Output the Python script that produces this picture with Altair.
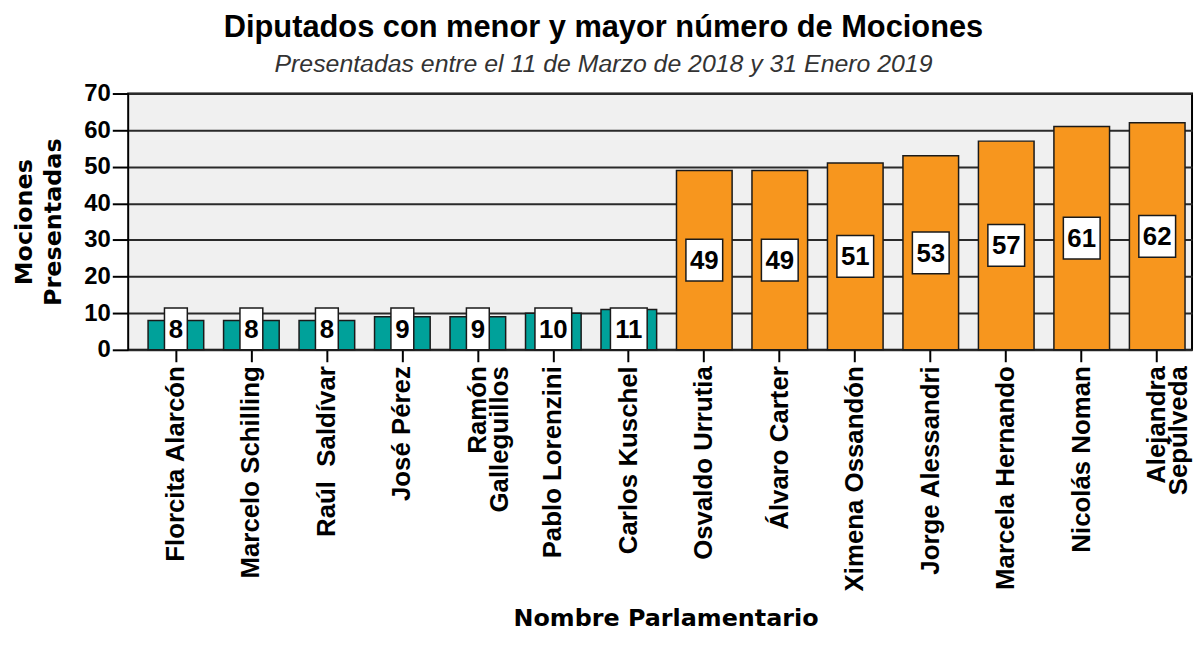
import altair as alt
import pandas as pd

names = ["Florcita Alarcón", "Marcelo Schilling", "Raúl  Saldívar", "José Pérez",
         "Ramón\nGalleguillos", "Pablo Lorenzini", "Carlos Kuschel", "Osvaldo Urrutia",
         "Álvaro Carter", "Ximena Ossandón", "Jorge Alessandri", "Marcela Hernando",
         "Nicolás Noman", "Alejandra\nSepúlveda"]
values = [8, 8, 8, 9, 9, 10, 11, 49, 49, 51, 53, 57, 61, 62]
groups = ["menor"] * 7 + ["mayor"] * 7
y_ticks = [0, 10, 20, 30, 40, 50, 60, 70]

df = pd.DataFrame({"nombre": names, "v": values, "grupo": groups})

ARIAL = "'Liberation Sans', Arial"
DEJAVU = "'DejaVu Sans', Verdana"

H = 258
W = 1071
HALF_BOX = 21 / (H / 70)

x_scale = alt.Scale(paddingInner=0.263, paddingOuter=0.178, align=0.74)
x_axis = alt.Axis(title="Nombre Parlamentario", labelAngle=270,
                  labelExpr="split(replace(datum.label, '  ', ' \\u00a0'), '\\n')",
                  labelFont=ARIAL, labelFontSize=26, labelFontWeight="bold",
                  labelColor="black", labelPadding=4, labelLineHeight=22,
                  labelLimit=0, labelOverlap=False,
                  tickSize=12, tickColor="black", tickWidth=2,
                  domain=False, grid=False,
                  titleFont=DEJAVU, titleFontSize=24, titleFontWeight="bold",
                  titleColor="black", titleX=541, titleY=278,
                  titleAlign="center", titleBaseline="alphabetic")

y_scale = alt.Scale(domain=[0, 70], nice=False, zero=True)
y_axis = alt.Axis(values=y_ticks, title=["Mociones", "Presentadas"],
                  labelFont=ARIAL, labelFontSize=24, labelFontWeight="bold",
                  labelColor="black", labelPadding=2, labelOverlap=False,
                  tickSize=16, tickColor="black", tickWidth=2,
                  domain=False, grid=True, gridColor="#2a2a2a", gridWidth=2,
                  titleFont=DEJAVU, titleFontSize=24, titleFontWeight="bold",
                  titleColor="black", titleAngle=270, titleX=-104.5, titleY=H / 2,
                  titleAlign="center", titleBaseline="middle",
                  titleLineHeight=29)

X = alt.X("nombre:N", sort=names, scale=x_scale, axis=x_axis)

base = alt.Chart(df)

bars = base.mark_bar(stroke="#1a1a1a", strokeWidth=1.5).encode(
    x=X,
    y=alt.Y("v:Q", scale=y_scale, axis=y_axis),
    color=alt.Color("grupo:N", scale=alt.Scale(domain=["menor", "mayor"],
                                               range=["#00a19a", "#f7961e"]),
                    legend=None),
)

lab = base.transform_calculate(
    lab_y=f"max(datum.v / 2, {HALF_BOX})",
).transform_calculate(
    lab_lo=f"datum.lab_y - {HALF_BOX}",
    lab_hi=f"datum.lab_y + {HALF_BOX}",
    bw="length(toString(datum.v)) > 1 ? 37 : 23",
)

boxes = lab.mark_bar(fill="white", stroke="#1a1a1a", strokeWidth=1.5).encode(
    x=X,
    y=alt.Y("lab_lo:Q", scale=y_scale, axis=y_axis),
    y2="lab_hi:Q",
    size=alt.Size("bw:Q", scale=None),
)

texts = lab.mark_text(font=ARIAL, fontSize=26, fontWeight="bold", color="black",
                      baseline="middle", dy=1).encode(
    x=X,
    y=alt.Y("lab_y:Q", scale=y_scale, axis=y_axis),
    text="v:Q",
)

chart = alt.layer(bars, boxes, texts).properties(
    width=W, height=H,
    autosize=alt.AutoSizeParams(type="none"),
    padding={"left": 121, "top": 84, "right": 3, "bottom": 284},
    title=alt.TitleParams(
        text="Diputados con menor y mayor número de Mociones",
        subtitle="Presentadas entre el 11 de Marzo de 2018 y 31 Enero 2019",
        font=ARIAL, fontSize=31, fontWeight="bold", color="black",
        subtitleFont=ARIAL, subtitleFontSize=25, subtitleFontStyle="italic",
        subtitleColor="#333333", subtitlePadding=8,
        anchor="middle", dx=-57, offset=4,
    ),
).configure_view(fill="#f0f0f0", stroke="black", strokeWidth=2)

chart.save("out.html", embed_options={"renderer": "svg", "actions": False})
